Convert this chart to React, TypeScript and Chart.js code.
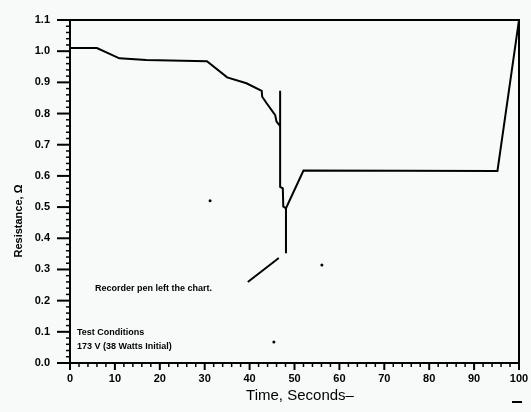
import React, { useEffect, useRef } from 'react';
import { Chart, registerables } from 'chart.js';

Chart.register(...registerables);

// Recorder trace (time in seconds, resistance in ohms)
const timeSec = [0, 6, 11, 17, 30.5, 35, 39.3, 42.7, 42.8, 43.8, 45.7, 46, 46.8, 46.8, 46.8, 47.4, 47.5, 48.1, 48.1, 48.1, 52, 95.2, 100];
const resistance = [1.01, 1.01, 0.977, 0.972, 0.968, 0.916, 0.897, 0.873, 0.854, 0.833, 0.795, 0.774, 0.76, 0.873, 0.565, 0.56, 0.502, 0.496, 0.352, 0.496, 0.617, 0.616, 1.1];

// Annotation pointer line
const pointerTime = [39.6, 46.5];
const pointerRes = [0.26, 0.337];

// Scan specks
const speckTime = [31.2, 56.1, 45.4];
const speckRes = [0.52, 0.314, 0.067];

const xMin = 0;
const xMax = 100;
const yMin = 0;
const yMax = 1.1;

const xTitle = 'Time, Seconds–';
const yTitle = 'Resistance, Ω';
const noteText = 'Recorder pen left the chart.';
const condLines = ['Test Conditions', '173 V (38 Watts Initial)'];

const toPoints = (xs: number[], ys: number[]) => xs.map((x, i) => ({ x, y: ys[i] }));

const decorPlugin = {
  id: 'decor',
  beforeDraw(chart: any) {
    const ctx = chart.ctx;
    ctx.save();
    ctx.fillStyle = '#f8faf9';
    ctx.fillRect(0, 0, chart.width, chart.height);
    ctx.restore();
  },
  afterDraw(chart: any) {
    const ctx = chart.ctx;
    const { left, right, top, bottom } = chart.chartArea;
    const xs = chart.scales.x;
    const ys = chart.scales.y;
    ctx.save();
    ctx.strokeStyle = '#000';
    ctx.lineCap = 'butt';
    // frame
    ctx.lineWidth = 2;
    ctx.beginPath();
    ctx.moveTo(left, top);
    ctx.lineTo(right, top);
    ctx.lineTo(right, bottom);
    ctx.stroke();
    // x ticks
    xs.ticks.forEach((t: any) => {
      const px = xs.getPixelForValue(t.value);
      const major = Math.round(t.value) % 10 === 0;
      ctx.lineWidth = major ? 2 : 1.5;
      ctx.beginPath();
      ctx.moveTo(px, bottom);
      ctx.lineTo(px, bottom + (major ? 7 : 4));
      ctx.stroke();
    });
    // y ticks
    ys.ticks.forEach((t: any) => {
      const py = ys.getPixelForValue(t.value);
      const major = Math.round(t.value * 100) % 10 === 0;
      ctx.lineWidth = major ? 2 : 1.5;
      ctx.beginPath();
      ctx.moveTo(left, py);
      ctx.lineTo(left - (major ? 13 : 4), py);
      ctx.stroke();
    });
    // texts
    ctx.fillStyle = '#000';
    ctx.textBaseline = 'middle';
    ctx.textAlign = 'left';
    ctx.font = 'bold 9px "Liberation Sans"';
    ctx.fillText(noteText, 95, 289);
    ctx.fillText(condLines[0], 77, 333);
    ctx.fillText(condLines[1], 77, 347);
    // x title
    ctx.textAlign = 'center';
    ctx.font = '15px "Liberation Sans"';
    ctx.fillText(xTitle, 300, 396);
    // dash under 100
    ctx.lineWidth = 2;
    ctx.beginPath();
    ctx.moveTo(512, 402);
    ctx.lineTo(522, 402);
    ctx.stroke();
    // y title
    ctx.save();
    ctx.translate(19, 221);
    ctx.rotate(-Math.PI / 2);
    ctx.font = 'bold 11px "Liberation Sans"';
    ctx.fillText(yTitle, 0, 0);
    ctx.restore();
    ctx.restore();
  },
};

export default function App() {
  const canvasRef = useRef<HTMLCanvasElement | null>(null);

  useEffect(() => {
    if (!canvasRef.current) return;
    const chart = new Chart(canvasRef.current, {
      type: 'scatter',
      data: {
        datasets: [
          {
            label: 'Resistance',
            data: toPoints(timeSec, resistance),
            showLine: true,
            borderColor: '#000',
            borderWidth: 2,
            pointRadius: 0,
            tension: 0,
          },
          {
            label: 'Pointer',
            data: toPoints(pointerTime, pointerRes),
            showLine: true,
            borderColor: '#000',
            borderWidth: 2,
            pointRadius: 0,
          },
          {
            label: 'Specks',
            data: toPoints(speckTime, speckRes),
            showLine: false,
            backgroundColor: '#000',
            borderWidth: 0,
            pointRadius: 1.5,
          },
        ],
      },
      options: {
        animation: false,
        responsive: false,
        layout: { padding: { top: 20, right: 12, left: 0, bottom: 0 } },
        plugins: { legend: { display: false }, tooltip: { enabled: false } },
        scales: {
          x: {
            type: 'linear',
            min: xMin,
            max: xMax,
            grid: { display: false, drawTicks: false },
            border: { display: true, color: '#000', width: 2 },
            ticks: {
              stepSize: 2,
              autoSkip: false,
              maxRotation: 0,
              padding: 9,
              color: '#000',
              font: { family: '"Liberation Sans"', size: 11, weight: 'bold' },
              callback: (v: any) => (Math.round(v) % 10 === 0 ? String(Math.round(v)) : ''),
            },
            afterFit: (s: any) => {
              s.height = 49;
              s.paddingLeft = 0;
              s.paddingRight = 0;
            },
          },
          y: {
            type: 'linear',
            min: yMin,
            max: yMax,
            grid: { display: false, drawTicks: false },
            border: { display: true, color: '#000', width: 2 },
            ticks: {
              stepSize: 0.02,
              autoSkip: false,
              padding: 20,
              color: '#000',
              font: { family: '"Liberation Sans"', size: 11, weight: 'bold' },
              callback: (v: any) => {
                const r = Math.round(v * 100);
                return r % 10 === 0 ? (r / 100).toFixed(1) : '';
              },
            },
            afterFit: (s: any) => {
              s.width = 70;
              s.paddingTop = 0;
              s.paddingBottom = 0;
            },
          },
        },
      },
      plugins: [decorPlugin],
    });
    return () => chart.destroy();
  }, []);

  return (
    <div style={{ position: 'absolute', left: 0, top: 0, width: 531, height: 412 }}>
      <canvas ref={canvasRef} width={531} height={412} style={{ display: 'block' }} />
    </div>
  );
}
